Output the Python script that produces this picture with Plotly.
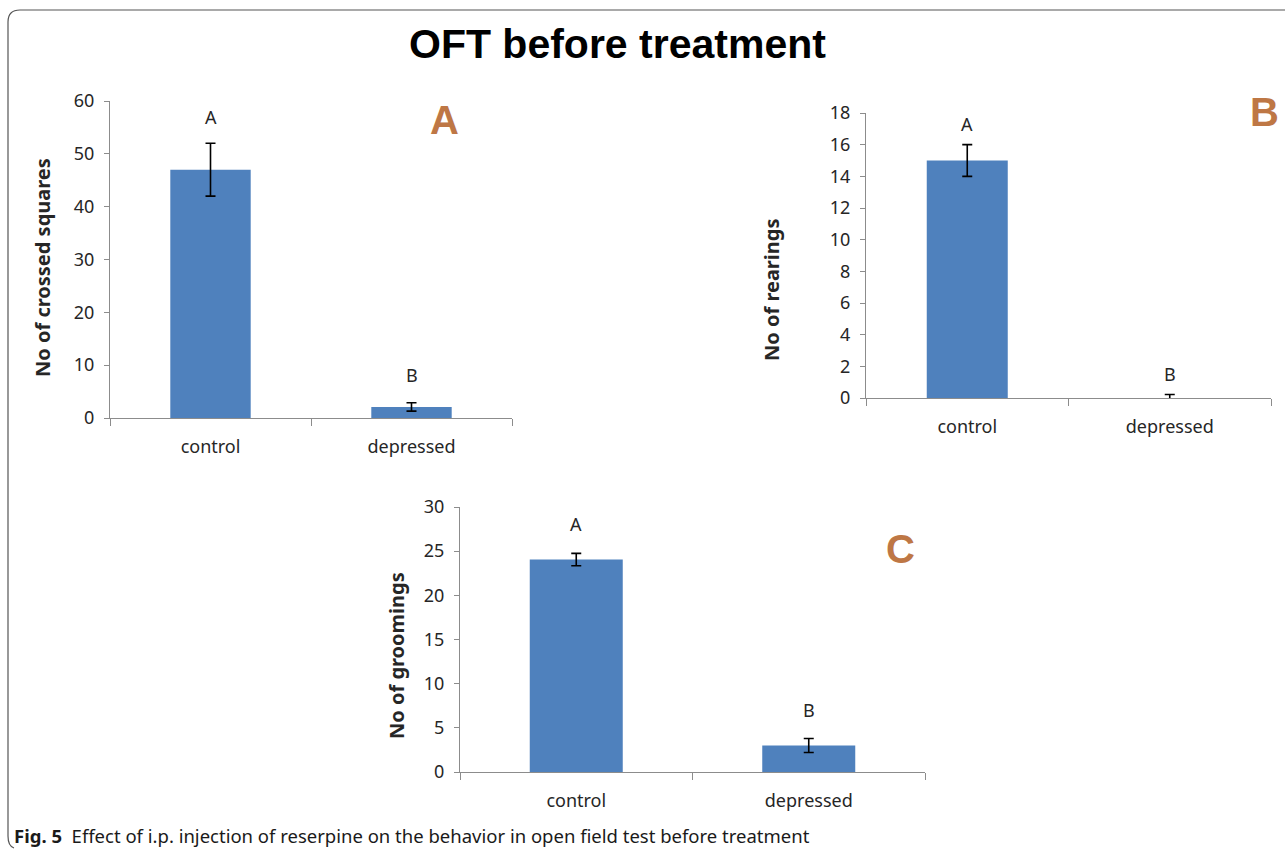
import plotly.graph_objects as go

# Open field test (OFT) scores before treatment
groups = ["control", "depressed"]

crossed_mean = [47.0, 2.1]
crossed_err = [5.0, 0.8]

rearing_mean = [15.0, 0.0]
rearing_err = [1.0, 0.22]

grooming_mean = [24.05, 3.0]
grooming_err = [0.7, 0.8]

sig_letters = ["A", "B"]

BAR_COLOR = "#4F81BD"
AXIS_GREY = "#8C8C8C"
PANEL_ORANGE = "#BE7745"
TEXT_DARK = "#262626"
BASE_FONT = "Noto Sans, DejaVu Sans, sans-serif"
TICK_FONT = dict(family=BASE_FONT, size=18, color=TEXT_DARK)

W, H = 1285, 852


def px_x(x):
    return x / W


def px_y(y):
    return 1 - y / H


panels = [
    dict(mean=crossed_mean, err=crossed_err, rng=[0, 60], dtick=10,
         title="No of crossed squares", xs=(110, 512), ys=(101, 418), ax="",
         panel="A", panel_pos=(444, 120), shifts=[12, 14], title_pos=(42, 268)),
    dict(mean=rearing_mean, err=rearing_err, rng=[0, 18], dtick=2,
         title="No of rearings", xs=(866, 1271), ys=(113, 398), ax="2",
         panel="B", panel_pos=(1264, 112), shifts=[7, 7], title_pos=(771, 290)),
    dict(mean=grooming_mean, err=grooming_err, rng=[0, 30], dtick=5,
         title="No of groomings", xs=(460, 925), ys=(507, 772), ax="3",
         panel="C", panel_pos=(901, 549), shifts=[15, 14], title_pos=(396, 656)),
]

fig = go.Figure()
annotations = []
layout_axes = {}

for p in panels:
    xa = "x" + p["ax"]
    ya = "y" + p["ax"]
    fig.add_trace(go.Bar(
        x=groups, y=p["mean"],
        marker=dict(color=BAR_COLOR, line=dict(width=0)),
        error_y=dict(type="data", array=p["err"], visible=True,
                     color="black", thickness=1.6, width=5),
        xaxis=xa, yaxis=ya, showlegend=False, hoverinfo="skip",
    ))
    x0, x1 = p["xs"]
    y0, y1 = p["ys"]
    layout_axes["xaxis" + p["ax"]] = dict(
        domain=[px_x(x0), px_x(x1)], anchor=ya,
        type="category", tickson="boundaries",
        showline=True, linecolor=AXIS_GREY, linewidth=1,
        ticks="outside", ticklen=7, tickcolor=AXIS_GREY, tickwidth=1,
        ticklabelstandoff=12,
        showgrid=False, zeroline=False, tickfont=TICK_FONT, fixedrange=True,
    )
    layout_axes["yaxis" + p["ax"]] = dict(
        domain=[px_y(y1), px_y(y0)], anchor=xa,
        range=p["rng"], dtick=p["dtick"], tick0=0,
        showline=True, linecolor=AXIS_GREY, linewidth=1,
        ticks="outside", ticklen=5, tickcolor=AXIS_GREY, tickwidth=1,
        ticklabelstandoff=6,
        showgrid=False, zeroline=False, tickfont=TICK_FONT, fixedrange=True,
    )
    # significance letters above each error bar
    for g, m, e, lab, s in zip(groups, p["mean"], p["err"], sig_letters, p["shifts"]):
        annotations.append(dict(
            x=g, y=m + e, xref=xa, yref=ya, text=lab, showarrow=False,
            yanchor="bottom", yshift=s,
            font=dict(family=BASE_FONT, size=18, color=TEXT_DARK),
        ))
    # y-axis title
    annotations.append(dict(
        x=px_x(p["title_pos"][0]), y=px_y(p["title_pos"][1]), xref="paper", yref="paper",
        text="<b>" + p["title"] + "</b>", textangle=-90, showarrow=False,
        xanchor="center", yanchor="middle",
        font=dict(family=BASE_FONT, size=20, color=TEXT_DARK),
    ))
    # panel letter
    annotations.append(dict(
        x=px_x(p["panel_pos"][0]), y=px_y(p["panel_pos"][1]), xref="paper", yref="paper",
        text="<b>" + p["panel"] + "</b>", showarrow=False,
        xanchor="center", yanchor="middle",
        font=dict(family="Liberation Sans, Arial, sans-serif", size=40, color=PANEL_ORANGE),
    ))

# main title
annotations.append(dict(
    x=px_x(617), y=px_y(44), xref="paper", yref="paper",
    text="<b>OFT before treatment</b>", showarrow=False,
    xanchor="center", yanchor="middle",
    font=dict(family="Liberation Sans, Arial, sans-serif", size=41, color="black"),
))

# figure caption
annotations.append(dict(
    x=px_x(12), y=px_y(835), xref="paper", yref="paper",
    text="<b>Fig. 5</b>  Effect of i.p. injection of reserpine on the behavior in open field test before treatment",
    showarrow=False, xanchor="left", yanchor="middle",
    font=dict(family=BASE_FONT, size=18.5, color="#1a1a1a"),
))

# rounded frame around the figure (open on the right)
frame_path = (
    f"M {px_x(1290)},{px_y(10)} L {px_x(20)},{px_y(10)} "
    f"Q {px_x(8)},{px_y(10)} {px_x(8)},{px_y(22)} "
    f"L {px_x(8)},{px_y(836)} Q {px_x(8)},{px_y(846)} {px_x(14)},{px_y(848)}"
)

fig.update_layout(
    width=W, height=H,
    margin=dict(l=0, r=0, t=0, b=0, autoexpand=False),
    paper_bgcolor="white", plot_bgcolor="white",
    bargap=0.6,
    annotations=annotations,
    shapes=[dict(type="path", path=frame_path, xref="paper", yref="paper",
                 line=dict(color="#555555", width=1.2))],
    **layout_axes,
)

fig.write_html("out.html")
